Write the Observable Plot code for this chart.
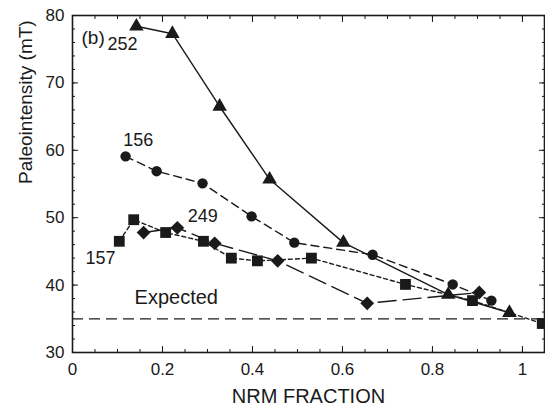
<!DOCTYPE html>
<html>
<head>
<meta charset="utf-8">
<script src="https://cdn.jsdelivr.net/npm/d3@7"></script>
<script src="https://cdn.jsdelivr.net/npm/@observablehq/plot@0.6"></script>
<style>
  html, body { margin: 0; padding: 0; background: #fff; }
  #chart svg { font-family: "Liberation Sans", Arial, Helvetica, sans-serif; }
</style>
</head>
<body>
<div id="chart"></div>
<script>
// Sample 252 (triangles, solid)
const s252x = [0.142, 0.222, 0.327, 0.438, 0.602, 0.835, 0.971];
const s252y = [78.4, 77.3, 66.5, 55.7, 46.3, 38.6, 35.9];
// Sample 156 (circles, dashed)
const s156x = [0.118, 0.187, 0.289, 0.398, 0.493, 0.667, 0.845, 0.931];
const s156y = [59.1, 56.9, 55.1, 50.2, 46.3, 44.5, 40.1, 37.7];
// Sample 157 (squares, short dashes)
const s157x = [0.104, 0.136, 0.207, 0.291, 0.353, 0.411, 0.531, 0.740, 0.889, 1.044];
const s157y = [46.5, 49.7, 47.8, 46.5, 44.0, 43.6, 44.0, 40.1, 37.7, 34.3];
// Sample 249 (diamonds, long dashes)
const s249x = [0.158, 0.233, 0.316, 0.456, 0.655, 0.904];
const s249y = [47.8, 48.5, 46.2, 43.6, 37.3, 38.9];

const expected = [35];

const xMajor = [0, 0.2, 0.4, 0.6, 0.8, 1];
const xMinor = d3.range(0, 21).map(i => i * 0.05);
const yMajor = [30, 40, 50, 60, 70, 80];
const yMinor = d3.range(0, 26).map(i => 30 + i * 2);

const labels = [
  {x: 0.020, y: 76.7, text: "(b)", size: 19},
  {x: 0.078, y: 75.8, text: "252", size: 18},
  {x: 0.113, y: 61.5, text: "156", size: 18},
  {x: 0.256, y: 50.25, text: "249", size: 18},
  {x: 0.029, y: 44.0, text: "157", size: 18},
  {x: 0.138, y: 38.2, text: "Expected", size: 20}
];

const toRows = (xs, ys) => xs.map((x, i) => ({x, y: ys[i]}));
const d252 = toRows(s252x, s252y);
const d156 = toRows(s156x, s156y);
const d157 = toRows(s157x, s157y);
const d249 = toRows(s249x, s249y);

const ink = "#1a1a1a";

// square-proportioned diamond symbol
const diamondSq = {
  draw(context, size) {
    const h = Math.sqrt(size / 2);
    context.moveTo(0, -h);
    context.lineTo(h, 0);
    context.lineTo(0, h);
    context.lineTo(-h, 0);
    context.closePath();
  }
};

const chart = Plot.plot({
  width: 545,
  height: 415,
  marginLeft: 72,
  marginRight: 1,
  marginTop: 15,
  marginBottom: 63,
  style: {fontFamily: "Liberation Sans, Arial, Helvetica, sans-serif", color: ink, background: "#fff"},
  x: {domain: [0, 1.049]},
  y: {domain: [30, 80]},
  marks: [
    // axis labels
    Plot.axisX(xMajor, {anchor: "bottom", tickSize: 0, tickPadding: 10, fontSize: 17, label: null, tickFormat: d => d3.format("~g")(d)}),
    Plot.axisY(yMajor, {anchor: "left", tickSize: 0, tickPadding: 8, fontSize: 17, label: null}),
    // inward ticks on all four sides
    Plot.axisX(xMajor, {anchor: "bottom", tickSize: -6, fill: "none", label: null}),
    Plot.axisX(xMinor, {anchor: "bottom", tickSize: -3, fill: "none", label: null}),
    Plot.axisX(xMajor, {anchor: "top", tickSize: -6, fill: "none", label: null}),
    Plot.axisX(xMinor, {anchor: "top", tickSize: -3, fill: "none", label: null}),
    Plot.axisY(yMajor, {anchor: "left", tickSize: -6, fill: "none", label: null}),
    Plot.axisY(yMinor, {anchor: "left", tickSize: -3, fill: "none", label: null}),
    Plot.axisY(yMajor, {anchor: "right", tickSize: -6, fill: "none", label: null}),
    Plot.axisY(yMinor, {anchor: "right", tickSize: -3, fill: "none", label: null}),
    Plot.frame({stroke: ink, strokeWidth: 1.6}),
    // expected value
    Plot.ruleY(expected, {stroke: ink, strokeWidth: 1.3, strokeDasharray: "11,6"}),
    // series lines
    Plot.line(d252, {x: "x", y: "y", stroke: ink, strokeWidth: 1.4}),
    Plot.line(d156, {x: "x", y: "y", stroke: ink, strokeWidth: 1.4, strokeDasharray: "8,5"}),
    Plot.line(d157, {x: "x", y: "y", stroke: ink, strokeWidth: 1.4, strokeDasharray: "4,3"}),
    Plot.line(d249, {x: "x", y: "y", stroke: ink, strokeWidth: 1.4, strokeDasharray: "18,7"}),
    // markers
    Plot.dot(d252, {x: "x", y: "y", symbol: "triangle", r: 5.4, fill: ink, stroke: "none"}),
    Plot.dot(d156, {x: "x", y: "y", symbol: "circle", r: 5.2, fill: ink, stroke: "none"}),
    Plot.dot(d157, {x: "x", y: "y", symbol: "square", r: 6.1, fill: ink, stroke: "none"}),
    Plot.dot(d249, {x: "x", y: "y", symbol: diamondSq, r: 5.5, fill: ink, stroke: "none"}),
    // annotations
    Plot.text(labels, {x: "x", y: "y", text: "text", fontSize: "size", textAnchor: "start", fill: ink}),
    // axis titles
    Plot.text(["NRM FRACTION"], {frameAnchor: "bottom", dy: 50, fontSize: 20, fill: ink}),
    Plot.text(["Paleointensity (mT)"], {frameAnchor: "left", dx: -47, rotate: -90, fontSize: 19, fill: ink})
  ]
});

document.getElementById("chart").appendChild(chart);
</script>
</body>
</html>
